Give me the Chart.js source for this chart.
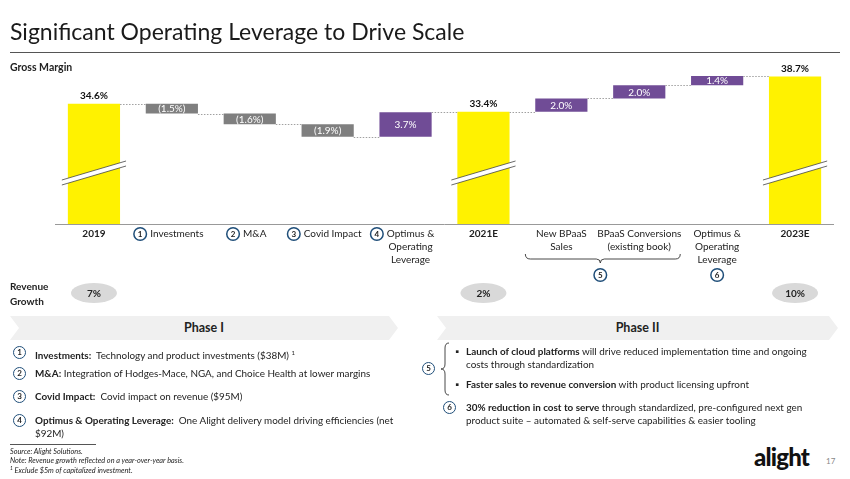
<!DOCTYPE html>
<html>
<head>
<meta charset="utf-8">
<script src="https://cdn.jsdelivr.net/npm/chart.js@4"></script>
<style>
  body { margin: 0; width: 850px; height: 479px; background: #fff; font-family: Lato, "Noto Sans", sans-serif; color: #222; position: relative; overflow: hidden; }
  .abs { position: absolute; white-space: nowrap; }
  #title { left: 10px; top: 17px; font-size: 23px; color: #1a1a1a; }
  #rule { left: 10px; top: 52px; width: 830px; height: 1px; background: #555; }
  #gm { left: 10px; top: 61px; font-size: 10.5px; font-weight: bold; }
  #rg { left: 10px; top: 279px; font-size: 10px; font-weight: bold; line-height: 15px; }
  .phase { top: 316px; height: 24px; background: #f0f0f0; font-size: 12.5px; font-weight: bold; text-align: center; line-height: 24px;
    clip-path: polygon(0 0, calc(100% - 9px) 0, 100% 50%, calc(100% - 9px) 100%, 0 100%, 9px 50%); }
  .num { position: absolute; width: 11px; height: 11px; border: 1.5px solid #1f4e79; border-radius: 50%; font-size: 8px; font-weight: bold; text-align: center; line-height: 11px; }
  .item { position: absolute; font-size: 9.9px; line-height: 13px; white-space: nowrap; }
  .foot { position: absolute; left: 10px; font-size: 7.3px; font-style: italic; white-space: nowrap; }
  #logo { left: 754px; top: 442px; font-size: 24px; font-weight: 900; color: #111; letter-spacing: -0.8px; }
  #pg { left: 826px; top: 456px; font-size: 8px; color: #888; }
  #chartWrap { position: absolute; left: 0; top: 0; width: 850px; height: 310px; }
</style>
</head>
<body>
<div id="chartWrap"><canvas id="c" width="850" height="310"></canvas></div>

<div class="abs" id="title">Significant Operating Leverage to Drive Scale</div>
<div class="abs" id="rule"></div>
<div class="abs" id="gm">Gross Margin</div>
<div class="abs" id="rg">Revenue<br>Growth</div>

<div class="abs phase" style="left:10px;width:388px;">Phase I</div>
<div class="abs phase" style="left:437px;width:401px;">Phase II</div>

<div class="num" style="left:13px;top:346px;">1</div>
<div class="item" style="left:35px;top:346px;"><b>Investments:</b>&nbsp; Technology and product investments ($38M) <sup style="font-size:6px">1</sup></div>
<div class="num" style="left:13px;top:367px;">2</div>
<div class="item" style="left:35px;top:367px;"><b>M&amp;A:</b> Integration of Hodges-Mace, NGA, and Choice Health at lower margins</div>
<div class="num" style="left:13px;top:390px;">3</div>
<div class="item" style="left:35px;top:390px;"><b>Covid Impact:</b>&nbsp; Covid impact on revenue ($95M)</div>
<div class="num" style="left:13px;top:414px;">4</div>
<div class="item" style="left:35px;top:414px;"><b>Optimus &amp; Operating Leverage:</b>&nbsp; One Alight delivery model driving efficiencies (net<br>$92M)</div>

<div class="abs" style="left:10px;top:444px;width:86px;height:1px;background:#555;"></div>
<div class="foot" style="top:447px;">Source: Alight Solutions.</div>
<div class="foot" style="top:456px;">Note: Revenue growth reflected on a year-over-year basis.</div>
<div class="foot" style="top:465px;"><sup style="font-size:5px">1</sup> Exclude $5m of capitalized investment.</div>

<div class="num" style="left:422px;top:362px;">5</div>
<svg class="abs" style="left:440px;top:342px;" width="12" height="54"><path d="M9 1 Q5 1 5 6 L5 22 Q5 27 1 27 Q5 27 5 32 L5 48 Q5 53 9 53" fill="none" stroke="#333" stroke-width="0.9"/></svg>
<div class="item" style="left:455px;top:345px;">&#9642;</div>
<div class="item" style="left:466px;top:345px;"><b>Launch of cloud platforms</b> will drive reduced implementation time and ongoing<br>costs through standardization</div>
<div class="item" style="left:455px;top:378px;">&#9642;</div>
<div class="item" style="left:466px;top:378px;"><b>Faster sales to revenue conversion</b> with product licensing upfront</div>
<div class="num" style="left:443px;top:401px;">6</div>
<div class="item" style="left:466px;top:401px;"><b>30% reduction in cost to serve</b> through standardized, pre-configured next gen<br>product suite – automated &amp; self-serve capabilities &amp; easier tooling</div>

<div class="abs" id="logo">alight</div>
<div class="abs" id="pg">17</div>

<script>
// waterfall data
const categories = ['2019', 'Investments', 'M&A', 'Covid Impact', ['Optimus &', 'Operating', 'Leverage'],
  '2021E', ['New BPaaS', 'Sales'], ['BPaaS Conversions', '(existing book)'], ['Optimus &', 'Operating', 'Leverage'], '2023E'];
const markers = [null, '1', '2', '3', '4', null, null, null, null, null];
const values = [34.6, -1.5, -1.6, -1.9, 3.7, 33.4, 2.0, 2.0, 1.4, 38.7];
const isTotal = [true, false, false, false, false, true, false, false, false, true];
const revenueGrowth = ['7%', null, null, null, null, '2%', null, null, null, '10%'];

const YELLOW = '#fff200', GREY = '#7f7f7f', PURPLE = '#704c96';

// build floating ranges
let level = 0;
const ranges = [], ends = [], colors = [];
values.forEach((v, i) => {
  if (isTotal[i]) {
    ranges.push([0, v]); level = v; colors.push(YELLOW);
  } else {
    ranges.push([level, level + v]); level = level + v;
    colors.push(v < 0 ? GREY : PURPLE);
  }
  ends.push(level);
});

function fmt(v) {
  return v < 0 ? '(' + Math.abs(v).toFixed(1) + '%)' : v.toFixed(1) + '%';
}

function circleNum(ctx, x, y, t) {
  ctx.save();
  ctx.beginPath();
  ctx.arc(x, y, 6.3, 0, Math.PI * 2);
  ctx.fillStyle = '#fff';
  ctx.fill();
  ctx.lineWidth = 1.5;
  ctx.strokeStyle = '#1f4e79';
  ctx.stroke();
  ctx.fillStyle = '#222';
  ctx.font = 'bold 8px Lato';
  ctx.textAlign = 'center';
  ctx.textBaseline = 'middle';
  ctx.fillText(t, x, y + 0.5);
  ctx.restore();
}

const extras = {
  id: 'extras',
  afterDatasetsDraw(chart) {
    const ctx = chart.ctx;
    const bars = chart.getDatasetMeta(0).data;
    const y = chart.scales.y;
    const area = chart.chartArea;

    // connectors
    ctx.save();
    ctx.strokeStyle = '#a0a0a0';
    ctx.lineWidth = 1;
    ctx.setLineDash([1.5, 1.5]);
    for (let i = 0; i < bars.length - 1; i++) {
      const yy = Math.round(y.getPixelForValue(ends[i])) + 0.5;
      ctx.beginPath();
      ctx.moveTo(bars[i].x + bars[i].width / 2, yy);
      ctx.lineTo(bars[i + 1].x - bars[i + 1].width / 2, yy);
      ctx.stroke();
    }
    ctx.restore();

    // axis line
    ctx.save();
    ctx.strokeStyle = '#999';
    ctx.lineWidth = 1;
    ctx.beginPath();
    ctx.moveTo(area.left, area.bottom + 0.5);
    ctx.lineTo(area.right, area.bottom + 0.5);
    ctx.stroke();
    ctx.restore();

    // break marks on total bars
    bars.forEach((b, i) => {
      if (!isTotal[i]) return;
      const x0 = b.x - b.width / 2 - 6, x1 = b.x + b.width / 2 + 6;
      ctx.save();
      ctx.beginPath();
      ctx.moveTo(x0, 180); ctx.lineTo(x1, 161); ctx.lineTo(x1, 166); ctx.lineTo(x0, 185); ctx.closePath();
      ctx.fillStyle = '#fff';
      ctx.fill();
      ctx.strokeStyle = '#444';
      ctx.lineWidth = 0.8;
      ctx.beginPath(); ctx.moveTo(x0, 180); ctx.lineTo(x1, 161); ctx.stroke();
      ctx.beginPath(); ctx.moveTo(x0, 185); ctx.lineTo(x1, 166); ctx.stroke();
      ctx.restore();
    });

    // value labels
    ctx.save();
    ctx.textAlign = 'center';
    bars.forEach((b, i) => {
      if (isTotal[i]) {
        ctx.font = 'bold 10px Lato';
        ctx.fillStyle = '#111';
        ctx.textBaseline = 'bottom';
        ctx.fillText(values[i].toFixed(1) + '%', b.x, b.y - 3);
      } else {
        ctx.font = '10px Lato';
        ctx.fillStyle = '#fff';
        ctx.textBaseline = 'middle';
        ctx.fillText(fmt(values[i]), b.x, (b.y + b.base) / 2 + 0.5);
      }
    });
    ctx.restore();

    // category labels
    ctx.save();
    ctx.textBaseline = 'middle';
    ctx.textAlign = 'center';
    ctx.fillStyle = '#222';
    bars.forEach((b, i) => {
      const lines = Array.isArray(categories[i]) ? categories[i] : [categories[i]];
      ctx.font = isTotal[i] ? 'bold 10px Lato' : '10px Lato';
      let cx = b.x;
      if (markers[i]) {
        cx = b.x + 5;
        const w1 = ctx.measureText(lines[0]).width;
        circleNum(ctx, cx - w1 / 2 - 10, 234, markers[i]);
        ctx.fillStyle = '#222';
        ctx.font = '10px Lato';
      }
      lines.forEach((t, k) => ctx.fillText(t, cx, 234 + k * 13));
    });
    ctx.restore();

    // brace under the BPaaS labels
    const bl = bars[6].x - 36, br = bars[7].x + 41, bm = (bars[6].x + bars[7].x) / 2;
    ctx.save();
    ctx.strokeStyle = '#333';
    ctx.lineWidth = 0.9;
    ctx.beginPath();
    ctx.moveTo(bl, 254);
    ctx.quadraticCurveTo(bl, 259, bl + 5, 259);
    ctx.lineTo(bm - 4, 259);
    ctx.quadraticCurveTo(bm, 259, bm, 263);
    ctx.quadraticCurveTo(bm, 259, bm + 4, 259);
    ctx.lineTo(br - 5, 259);
    ctx.quadraticCurveTo(br, 259, br, 254);
    ctx.stroke();
    ctx.restore();
    circleNum(ctx, bm, 275, '5');
    circleNum(ctx, bars[8].x, 275, '6');

    // revenue growth pills
    ctx.save();
    bars.forEach((b, i) => {
      if (!revenueGrowth[i]) return;
      ctx.beginPath();
      ctx.ellipse(b.x, 293, 23, 10, 0, 0, Math.PI * 2);
      ctx.fillStyle = '#d9d9d9';
      ctx.fill();
      ctx.fillStyle = '#222';
      ctx.font = 'bold 10px Lato';
      ctx.textAlign = 'center';
      ctx.textBaseline = 'middle';
      ctx.fillText(revenueGrowth[i], b.x, 293.5);
    });
    ctx.restore();
  }
};

new Chart(document.getElementById('c').getContext('2d'), {
  type: 'bar',
  data: {
    labels: categories,
    datasets: [{
      data: ranges,
      backgroundColor: colors,
      borderWidth: 0,
      barPercentage: 0.67,
      categoryPercentage: 1
    }]
  },
  options: {
    responsive: false,
    animation: false,
    events: [],
    layout: { padding: { left: 55, right: 16, top: 70, bottom: 86 } },
    plugins: { legend: { display: false }, tooltip: { enabled: false } },
    scales: {
      x: { display: false },
      y: { display: false, min: 16.4, max: 39.7 }
    }
  },
  plugins: [extras]
});
</script>
</body>
</html>
